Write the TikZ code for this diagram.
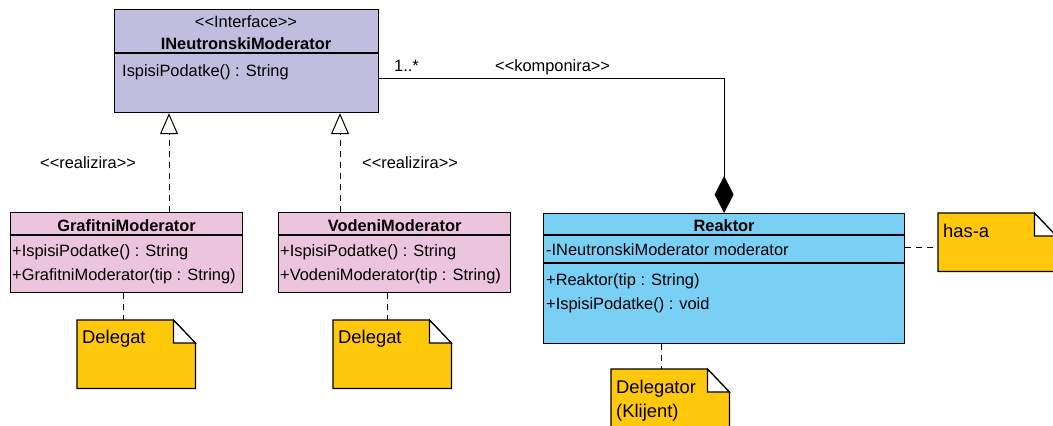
\documentclass[tikz,border=0pt]{standalone}
\usepackage{fontspec}
\setmainfont{Liberation Sans}
\usetikzlibrary{arrows.meta,calc}
\definecolor{ifc}{RGB}{193,189,222}
\definecolor{subc}{RGB}{236,196,222}
\definecolor{rkc}{RGB}{122,207,244}
\definecolor{notey}{RGB}{255,200,10}
\newcommand\NoteShape[1]{%
  \filldraw[fill=notey,draw=black,line width=1.2pt,line join=miter]
    (#1.north west) -- ($(#1.north east)+(-22,0)$) -- ($(#1.north east)+(0,23)$)
    -- (#1.south east) -- (#1.south west) -- cycle;
  \filldraw[fill=white,draw=black,line width=1.2pt]
    ($(#1.north east)+(-22,0)$) -- ($(#1.north east)+(-22,23)$) -- ($(#1.north east)+(0,23)$) -- cycle;}
\newcommand\LL{{<}{<}}
\newcommand\GG{{>}{>}}
\begin{document}
\begin{tikzpicture}[x=1pt,y=-1pt,
  font=\fontsize{16.4}{19}\selectfont,
  umlbox/.style={draw=black,line width=1.2pt,inner sep=0pt,anchor=north west},
  notebox/.style={inner sep=0pt,anchor=north west,minimum width=118pt},
  txt/.style={anchor=base west,inner sep=0pt},
  ntxt/.style={anchor=base west,inner sep=0pt,font=\fontsize{18.4}{22}\selectfont},
  ctxt/.style={anchor=base,inner sep=0pt},
  bold/.style={font=\fontsize{16.4}{19}\selectfont\bfseries},
  dashline/.style={line width=1pt,dash pattern=on 6pt off 5pt},
  realize/.style={dashline,-{Triangle[open,length=21pt,width=18pt,fill=white]}},
  compose/.style={line width=1pt,-{Diamond[length=37pt,width=19pt]}}]
\useasboundingbox (0,0) rectangle (1053,426);
\clip (0,0) rectangle (1053,426);

% interface
\node[umlbox,fill=ifc,minimum width=264pt,minimum height=103pt] (iface) at (114,9) {};
\draw[line width=1.2pt] (iface.west |- 0,53) -- (iface.east |- 0,53);
\node[ctxt] at (246,27) {\LL Interface\GG};
\node[ctxt,bold] at (246,49) {INeutronskiModerator};
\node[txt] at (122,76) {IspisiPodatke() : String};

% Grafitni
\node[umlbox,fill=subc,minimum width=232pt,minimum height=80pt] (gm) at (10,212) {};
\draw[line width=1.2pt] (gm.west |- 0,235) -- (gm.east |- 0,235);
\node[ctxt,bold] at (gm.north |- 0,231) {GrafitniModerator};
\node[txt] at (12,256) {+IspisiPodatke() : String};
\node[txt] at (12,280) {+GrafitniModerator(tip : String)};

% Vodeni
\node[umlbox,fill=subc,minimum width=232pt,minimum height=80pt] (vm) at (278,212) {};
\draw[line width=1.2pt] (vm.west |- 0,235) -- (vm.east |- 0,235);
\node[ctxt,bold] at (vm.north |- 0,231) {VodeniModerator};
\node[txt] at (280,256) {+IspisiPodatke() : String};
\node[txt] at (280,280) {+VodeniModerator(tip : String)};

% Reaktor
\node[umlbox,fill=rkc,minimum width=361pt,minimum height=130pt] (rk) at (543,213) {};
\draw[line width=1.2pt] (rk.west |- 0,235) -- (rk.east |- 0,235);
\draw[line width=1.2pt] (rk.west |- 0,263) -- (rk.east |- 0,263);
\node[ctxt,bold] at (rk.north |- 0,231) {Reaktor};
\node[txt] at (546,255) {-INeutronskiModerator moderator};
\node[txt] at (546,285) {+Reaktor(tip : String)};
\node[txt] at (546,309) {+IspisiPodatke() : void};

% notes
\node[notebox,minimum height=68pt] (d1) at (77,320) {};
\NoteShape{d1}
\node[ntxt] at (82,343) {Delegat};
\node[notebox,minimum height=68pt] (d2) at (333,320) {};
\NoteShape{d2}
\node[ntxt] at (338,343) {Delegat};
\node[notebox,minimum height=70pt] (dg) at (611,369) {};
\NoteShape{dg}
\node[ntxt] at (616,393) {Delegator};
\node[ntxt] at (616,417) {(Klijent)};
\node[notebox,minimum height=58pt] (ha) at (938,213) {};
\NoteShape{ha}
\node[ntxt] at (943,237) {has-a};

% connectors
\coordinate (r1) at (169,0);
\coordinate (r2) at (340,0);
\draw[realize] (gm.north -| r1) -- (iface.south -| r1);
\draw[realize] (vm.north -| r2) -- (iface.south -| r2);
\node[txt] at (40,168) {\LL realizira\GG};
\node[txt] at (362,168) {\LL realizira\GG};

\draw[compose] (iface.east |- 0,78) -| (rk.north);
\node[txt] at (394,71) {1..*};
\node[txt] at (495,71) {\LL komponira\GG};

\coordinate (n1) at (123,0);
\coordinate (n2) at (387,0);
\coordinate (n3) at (661,0);
\draw[dashline] (gm.south -| n1) -- (d1.north -| n1);
\draw[dashline] (vm.south -| n2) -- (d2.north -| n2);
\draw[dashline] (rk.south -| n3) -- (dg.north -| n3);
\draw[dashline] (rk.east |- 0,247) -- (ha.west |- 0,247);
\end{tikzpicture}
\end{document}
